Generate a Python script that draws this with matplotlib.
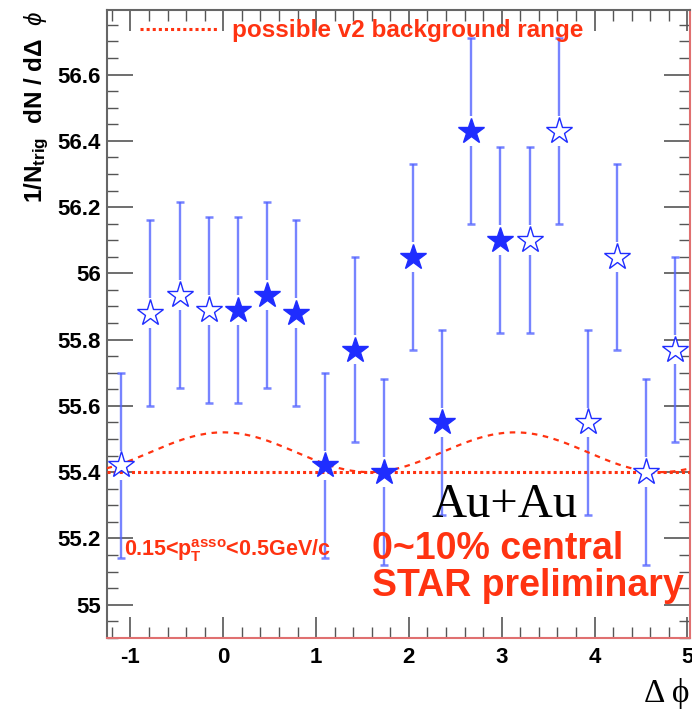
import matplotlib
matplotlib.use("Agg")
import matplotlib.pyplot as plt
import numpy as np

# measured bins (filled) and their reflections (open)
x_filled = [0.157, 0.471, 0.785, 1.100, 1.414, 1.728, 2.042, 2.356, 2.670, 2.985]
y_filled = [55.89, 55.935, 55.88, 55.42, 55.77, 55.40, 56.05, 55.55, 56.43, 56.10]
x_open = [-1.100, -0.785, -0.471, -0.157, 3.299, 3.613, 3.927, 4.241, 4.555, 4.869]
y_open = [55.42, 55.88, 55.935, 55.89, 56.10, 56.43, 55.55, 56.05, 55.40, 55.77]
err = 0.28

# v2 background: flat level and modulation amplitude
bkg_level = 55.40
v2_amp = 0.06

xlim = (-1.2566, 5.0265)
ylim = (54.9, 56.795)

blue = '#1f2dff'
ebar = '#5566ff'
red = '#ff3311'

plt.rcParams['font.family'] = ['Liberation Sans', 'DejaVu Sans']
plt.rcParams['axes.unicode_minus'] = False
plt.rcParams['mathtext.fontset'] = 'custom'
plt.rcParams['mathtext.rm'] = 'Liberation Sans'
plt.rcParams['mathtext.bf'] = 'Liberation Sans:bold'
plt.rcParams['mathtext.it'] = 'Liberation Sans:italic'

fig = plt.figure(figsize=(6.92, 7.11), dpi=100)
ax = fig.add_axes([0.154, 0.103, 0.843, 0.883])


def draw_points(xs, ys, filled):
    xs = np.array(xs)
    ys = np.array(ys)
    gap = 0.045
    ax.vlines(xs, ys - err, ys - gap, color=ebar, lw=1.7, alpha=0.8, zorder=2)
    ax.vlines(xs, ys + gap, ys + err, color=ebar, lw=1.7, alpha=0.8, zorder=2)
    ax.plot(xs, ys - err, ls='none', marker='_', ms=6, mew=1.8, color=ebar, alpha=0.8, zorder=2)
    ax.plot(xs, ys + err, ls='none', marker='_', ms=6, mew=1.8, color=ebar, alpha=0.8, zorder=2)
    if filled:
        ax.plot(xs, ys, ls='none', marker='*', ms=19, color=blue, mec=blue, zorder=4)
    else:
        ax.plot(xs, ys, ls='none', marker='*', ms=20, mfc='white', mec=blue, mew=1.0, zorder=4)


# background band edges
xc = np.linspace(xlim[0], xlim[1], 400)
ax.plot(xc, bkg_level + v2_amp * (1 + np.cos(2 * xc)), ls=(0, (2.5, 2.5)), lw=1.6, color=red, zorder=3)
flat, = ax.plot(list(xlim), [bkg_level, bkg_level], ls=(0, (1, 1)), lw=2.2, color=red, zorder=3,
                label='possible v2 background range')

draw_points(x_open, y_open, False)
draw_points(x_filled, y_filled, True)

ax.set_xlim(*xlim)
ax.set_ylim(*ylim)
ax.set_xticks([-1, 0, 1, 2, 3, 4, 5])
ax.set_xticks(np.arange(-1.2, 5.01, 0.2), minor=True)
ax.set_yticks([55.0, 55.2, 55.4, 55.6, 55.8, 56.0, 56.2, 56.4, 56.6])
ax.set_yticklabels(['55', '55.2', '55.4', '55.6', '55.8', '56', '56.2', '56.4', '56.6'])
ax.set_yticks(np.arange(54.9, 56.8, 0.05), minor=True)
ax.tick_params(which='both', direction='in', top=True, right=True, color='#555555')
ax.tick_params(which='major', axis='y', length=19, width=1.2, labelsize=16, pad=4)
ax.tick_params(which='major', axis='x', length=15, width=1.2, labelsize=16, pad=7)
ax.tick_params(which='minor', length=8, width=1.0)
for lab in ax.get_xticklabels() + ax.get_yticklabels():
    lab.set_fontweight('bold')
for s in ['left', 'top']:
    ax.spines[s].set_color('#666666')
    ax.spines[s].set_linewidth(1.5)
for s in ['bottom', 'right']:
    ax.spines[s].set_color('#e07070')
    ax.spines[s].set_linewidth(1.5)

fig.text(42 / 692, 1 - 11 / 711, r'1/N$_{\mathbf{trig}}$  dN / d$\mathbf{\Delta}$  $\phi$',
         fontsize=17.5, fontweight='bold', rotation=90, rotation_mode='anchor',
         ha='right', va='baseline')

fig.text(690 / 692, 9 / 711, 'Δ ϕ', fontsize=24, family=['Liberation Serif', 'DejaVu Serif'],
         ha='right', va='baseline')

leg = ax.legend(handles=[flat], loc='upper left', frameon=False, handlelength=3.2,
                fontsize=17.5, bbox_to_anchor=(0.02, 1.02), handletextpad=0.6)
for t in leg.get_texts():
    t.set_color(red)
    t.set_fontweight('bold')

ax.text(2.24, 55.265, 'Au+Au', fontsize=35, family=['Liberation Serif', 'DejaVu Serif'],
        ha='left', va='baseline')
ax.text(-1.07, 55.148, r'0.15<p$_{\mathbf{T}}^{\mathbf{asso}}$<0.5GeV/c', fontsize=15.5,
        fontweight='bold', color=red, ha='left', va='baseline')
ax.text(1.6, 55.138, '0~10% central', fontsize=27, fontweight='bold', color=red,
        ha='left', va='baseline')
ax.text(1.6, 55.027, 'STAR preliminary', fontsize=27, fontweight='bold', color=red,
        ha='left', va='baseline')

fig.savefig('out.png', dpi=100)
